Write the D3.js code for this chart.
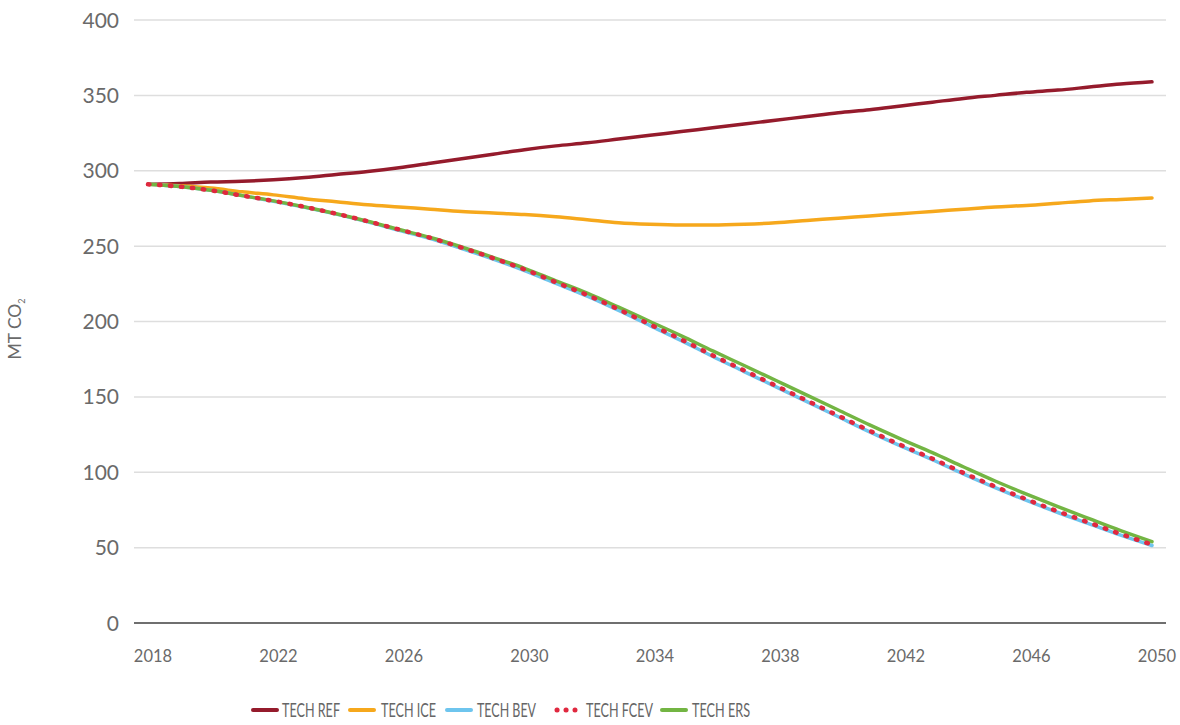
<!DOCTYPE html>
<html>
<head>
<meta charset="utf-8">
<script src="https://cdn.jsdelivr.net/npm/d3@7"></script>
<style>
  html, body { margin: 0; padding: 0; background: #fff; }
  svg { display: block; font-family: Lato, "Open Sans", sans-serif; }
</style>
</head>
<body>
<svg id="chart" width="1180" height="725"></svg>
<script>
const years = d3.range(2018, 2051);
const techRef = [291, 291.5, 292.5, 293, 294, 295.5, 297.5, 299.5, 302, 305, 308, 311, 314, 316.5, 318.5, 321, 323.5, 326, 328.5, 331, 333.5, 336, 338.5, 340.5, 343, 345.5, 348, 350, 352, 353.5, 355.5, 357.5, 359];
const techIce = [291, 290, 288.5, 286, 284, 281.5, 279.5, 277.5, 276, 274.5, 273, 272, 271, 269.5, 267.5, 265.5, 264.5, 264, 264, 264.5, 265.5, 267, 268.5, 270, 271.5, 273, 274.5, 276, 277, 278.5, 280, 281, 282];
const techFcev = [291, 289.5, 287, 283.5, 280, 276, 271.5, 266.5, 261, 255.5, 249, 242, 234.5, 226, 217.5, 208, 198, 188, 177.5, 167.5, 157.5, 147.5, 137.5, 127.5, 118, 109, 99.5, 90.5, 82, 74, 66.5, 59, 52];
const techBev = [291, 289.5, 287, 283.5, 279.8, 275.8, 271.2, 266.1, 260.5, 255, 248.4, 241.4, 233.8, 225.3, 216.8, 207.3, 197.3, 187.3, 176.8, 166.8, 156.8, 146.8, 136.8, 126.8, 117.3, 108.3, 98.8, 89.8, 81.3, 73.3, 65.8, 58.3, 51.4];
const techErs = [291, 289.5, 287, 283.5, 280, 276, 271.5, 266.5, 261, 255.7, 249.4, 242.5, 235.3, 227, 218.8, 209.5, 200, 190.5, 180.5, 170.8, 161, 151.2, 141.3, 131.4, 122, 113, 103.5, 94.2, 85.5, 77.2, 69.2, 61.3, 54];
const yTicks = [0, 50, 100, 150, 200, 250, 300, 350, 400];
const xTicks = [2018, 2022, 2026, 2030, 2034, 2038, 2042, 2046, 2050];
const seriesNames = ["TECH REF", "TECH ICE", "TECH BEV", "TECH FCEV", "TECH ERS"];

const colors = {"TECH REF": "#951b2c", "TECH ICE": "#f6a81c", "TECH BEV": "#6ec5ee", "TECH FCEV": "#e0283f", "TECH ERS": "#73b543"};
const seriesData = {"TECH REF": techRef, "TECH ICE": techIce, "TECH BEV": techBev, "TECH FCEV": techFcev, "TECH ERS": techErs};

const svg = d3.select("#chart");
const x = d3.scaleLinear().domain([2018, 2050]).range([148, 1152]);
const y = d3.scaleLinear().domain([0, 400]).range([623, 20]);

// gridlines
svg.append("g").selectAll("line").data(yTicks.filter(d => d > 0)).join("line")
  .attr("x1", 134).attr("x2", 1166)
  .attr("y1", d => y(d)).attr("y2", d => y(d))
  .attr("stroke", "#dedede").attr("stroke-width", 1.5);

// baseline
svg.append("line").attr("x1", 134).attr("x2", 1166).attr("y1", y(0)).attr("y2", y(0))
  .attr("stroke", "#6f6f6f").attr("stroke-width", 2);

// y labels
svg.append("g").selectAll("text").data(yTicks).join("text")
  .attr("x", 119).attr("y", d => y(d)).attr("dy", "0.36em")
  .attr("text-anchor", "end").attr("font-size", 21).attr("fill", "#6a6a6a")
  .text(d => d);

// x labels
svg.append("g").selectAll("text").data(xTicks).join("text")
  .attr("x", d => x(d) + 5).attr("y", 662)
  .attr("text-anchor", "middle").attr("font-size", 16.5).attr("fill", "#6a6a6a")
  .text(d => d);

// y title
const yt = svg.append("text").attr("transform", "translate(21,329) rotate(-90)")
  .attr("text-anchor", "middle").attr("font-size", 17.5).attr("fill", "#6a6a6a");
yt.append("tspan").text("MT CO");
yt.append("tspan").attr("font-size", 9).attr("dy", 4).text("2");

const line = d3.line().x((d, i) => x(years[i])).y(d => y(d)).curve(d3.curveMonotoneX);

const drawOrder = ["TECH REF", "TECH ICE", "TECH BEV", "TECH ERS", "TECH FCEV"];
drawOrder.forEach(name => {
  const p = svg.append("path").datum(seriesData[name])
    .attr("fill", "none").attr("stroke", colors[name])
    .attr("d", line);
  if (name === "TECH FCEV") {
    p.attr("stroke-width", 4.5).attr("stroke-dasharray", "1.5 9.5").attr("stroke-linecap", "round");
  } else {
    p.attr("stroke-width", 3.5).attr("stroke-linecap", "round");
  }
});

// legend
const legendItems = [
  {name: "TECH REF", lx: 253, tx: 282, tw: 58},
  {name: "TECH ICE", lx: 350, tx: 381, tw: 55},
  {name: "TECH BEV", lx: 447, tx: 477, tw: 59},
  {name: "TECH FCEV", lx: 556, tx: 586, tw: 67},
  {name: "TECH ERS", lx: 662, tx: 692, tw: 58}
];
const lg = svg.append("g");
legendItems.forEach(it => {
  const ln = lg.append("line").attr("x1", it.lx).attr("x2", it.lx + 24).attr("y1", 710).attr("y2", 710)
    .attr("stroke", colors[it.name]).attr("stroke-linecap", "round");
  if (it.name === "TECH FCEV") {
    ln.attr("x1", it.lx + 1).attr("x2", it.lx + 19).attr("stroke-width", 5).attr("stroke-dasharray", "0.1 8.9").attr("stroke-linecap", "round");
  } else {
    ln.attr("stroke-width", 4);
  }
  lg.append("text").attr("x", it.tx).attr("y", 717).attr("font-size", 18.5).attr("fill", "#666")
    .attr("textLength", it.tw).attr("lengthAdjust", "spacingAndGlyphs")
    .text(it.name);
});
</script>
</body>
</html>
